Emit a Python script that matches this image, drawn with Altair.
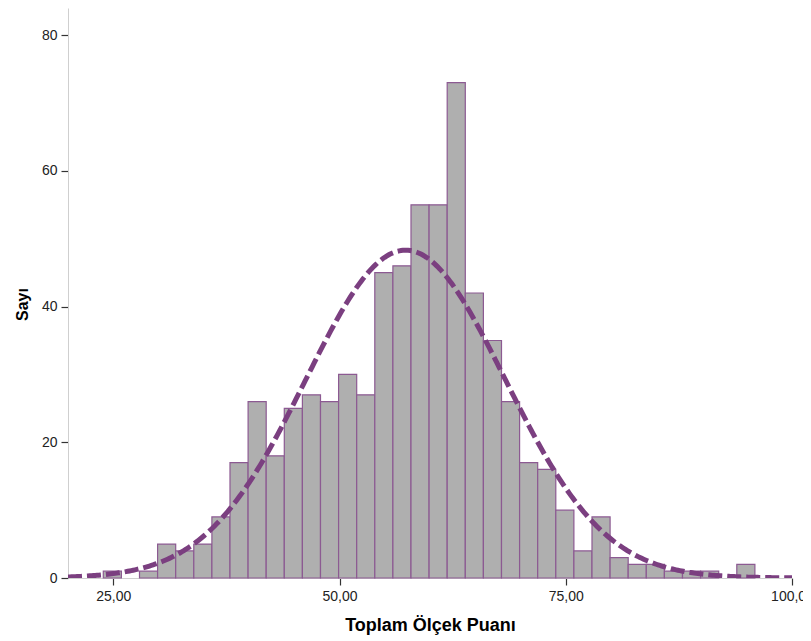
import altair as alt
import numpy as np
import pandas as pd

# Histogram bins (left edge of first bin, width) and counts
bin_start = 23.9
bin_width = 2.0
counts = [1, 0, 1, 5, 4, 5, 9, 17, 26, 18,
          25, 27, 26, 30, 27, 45, 46, 55, 55, 73,
          42, 35, 26, 17, 16, 10, 4, 9, 3, 2,
          2, 1, 1, 1, 0, 2]

# Fitted normal curve parameters
curve_mean = 57.3
curve_sd = 11.0
n_total = sum(counts)

x_ticks = [25, 50, 75, 100]
y_ticks = [0, 20, 40, 60, 80]

starts = [bin_start + i * bin_width for i in range(len(counts))]
bars = pd.DataFrame({
    "start": starts,
    "end": [s + bin_width for s in starts],
    "count": counts,
    "base": [0] * len(counts),
})
bars = bars[bars["count"] > 0]

xs = np.linspace(20, 100, 401)
ys = n_total * bin_width / (curve_sd * np.sqrt(2 * np.pi)) * np.exp(-0.5 * ((xs - curve_mean) / curve_sd) ** 2)
curve = pd.DataFrame({"x": xs, "y": ys})

FONT = "Liberation Sans"

x_scale = alt.Scale(domain=[20, 100], nice=False, zero=False)
y_scale = alt.Scale(domain=[0, 84], nice=False)

x_axis = alt.Axis(
    title="Toplam Ölçek Puanı",
    values=x_ticks,
    labelExpr="replace(format(datum.value, '.2f'), '.', ',')",
    labelFlush=False,
    grid=False,
    tickSize=7,
    labelPadding=4,
    titleX=362,
    titleY=47,
    titleAlign="center",
    titleBaseline="middle",
    titleFontSize=18,
)
y_axis = alt.Axis(
    title="Sayı",
    values=y_ticks,
    labelFlush=False,
    grid=False,
    tickSize=7,
    labelPadding=4,
    titleX=-46,
    titleY=296,
    titleAlign="center",
    titleBaseline="middle",
    titleFontSize=16,
)

bar_layer = alt.Chart(bars).mark_rect(
    fill="#afafaf",
    stroke="#8c5a92",
    strokeWidth=1.2,
    opacity=1,
).encode(
    x=alt.X("start:Q", scale=x_scale, axis=x_axis),
    x2="end:Q",
    y=alt.Y("count:Q", scale=y_scale, axis=y_axis),
    y2="base:Q",
)

curve_layer = alt.Chart(curve).mark_line(
    color="#7b3f80",
    strokeWidth=5,
    strokeDash=[14, 5],
    clip=True,
).encode(
    x=alt.X("x:Q", scale=x_scale),
    y=alt.Y("y:Q", scale=y_scale),
)

chart = alt.layer(bar_layer, curve_layer).properties(
    width=724,
    height=570,
    autosize=alt.AutoSizeParams(type="none"),
    padding={"left": 60, "top": 0, "right": 11, "bottom": 60},
).configure_view(
    stroke=None,
).configure_axis(
    labelFont=FONT,
    labelFontSize=14,
    labelColor="#222222",
    titleFont=FONT,
    titleFontWeight="bold",
    titleColor="#000000",
    domainColor="#cfcfcf",
    domainWidth=1,
    tickColor="#333333",
    tickWidth=1.2,
)

chart.save("out.html", embed_options={"renderer": "svg", "actions": False})
